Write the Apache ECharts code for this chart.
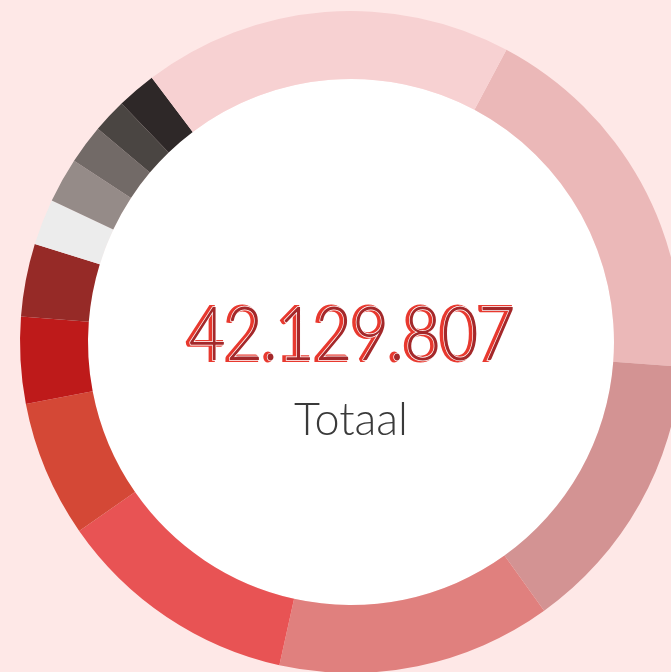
<!DOCTYPE html>
<html>
<head>
<meta charset="utf-8">
<script src="https://cdn.jsdelivr.net/npm/echarts@6/dist/echarts.min.js"></script>
<style>
  html, body { margin: 0; padding: 0; background: #fee8e7; }
  #chart { width: 671px; height: 672px; }
</style>
</head>
<body>
<div id="chart"></div>
<script>
const names = ['Segment 1', 'Segment 2', 'Segment 3', 'Segment 4', 'Segment 5', 'Segment 6', 'Segment 7',
    'Segment 8', 'Segment 9', 'Segment 10', 'Segment 11', 'Segment 12', 'Segment 13'];
const values = [7759000, 5851000, 5641000, 4997000, 2809000, 1779000, 1498000,
    948000, 925000, 807000, 702000, 807000, 7606807];
const colors = ['#ebb8b8', '#d39393', '#e0807e', '#e85354', '#d44836', '#be1a1a', '#962a27',
    '#ececec', '#958b88', '#726a67', '#4a4542', '#2e2828', '#f7d1d2'];
const totalLabel = 'Totaal';

const total = values.reduce((a, b) => a + b, 0);
const totalText = total.toString().replace(/\B(?=(\d{3})+(?!\d))/g, '.');

const chart = echarts.init(document.getElementById('chart'), null, { renderer: 'canvas' });

const cx = 351;
const numFont = '300 74px Lato';

chart.setOption({
    backgroundColor: '#fee8e7',
    animation: false,
    series: [
        {
            type: 'pie',
            silent: true,
            center: [cx, 342],
            radius: [0, 263],
            label: { show: false },
            labelLine: { show: false },
            data: [{ value: 1, name: 'bg', itemStyle: { color: '#ffffff' } }]
        },
        {
            type: 'pie',
            center: [cx, 342],
            radius: [263, 331],
            startAngle: 62,
            clockwise: true,
            label: { show: false },
            labelLine: { show: false },
            itemStyle: { borderWidth: 0 },
            data: names.map((n, i) => ({ name: n, value: values[i], itemStyle: { color: colors[i] } }))
        }
    ],
    graphic: [
        {
            type: 'text',
            silent: true,
            z: 100,
            x: cx, y: 336, scaleX: 0.865,
            style: {
                text: totalText, x: -1.5, y: 0, font: numFont,
                textAlign: 'center', textVerticalAlign: 'middle',
                fill: '#e8392f', stroke: '#e8392f', lineWidth: 4
            }
        },
        {
            type: 'text',
            silent: true,
            z: 101,
            x: cx, y: 336, scaleX: 0.865,
            style: {
                text: totalText, x: 1.5, y: 0, font: numFont,
                textAlign: 'center', textVerticalAlign: 'middle',
                fill: '#a4282a', stroke: '#ffffff', lineWidth: 1.5
            }
        },
        {
            type: 'text',
            silent: true,
            z: 100,
            style: {
                text: totalLabel, x: cx, y: 420, font: '300 45px Lato',
                textAlign: 'center', textVerticalAlign: 'middle',
                fill: '#3a3a3a'
            }
        }
    ]
});
</script>
</body>
</html>
